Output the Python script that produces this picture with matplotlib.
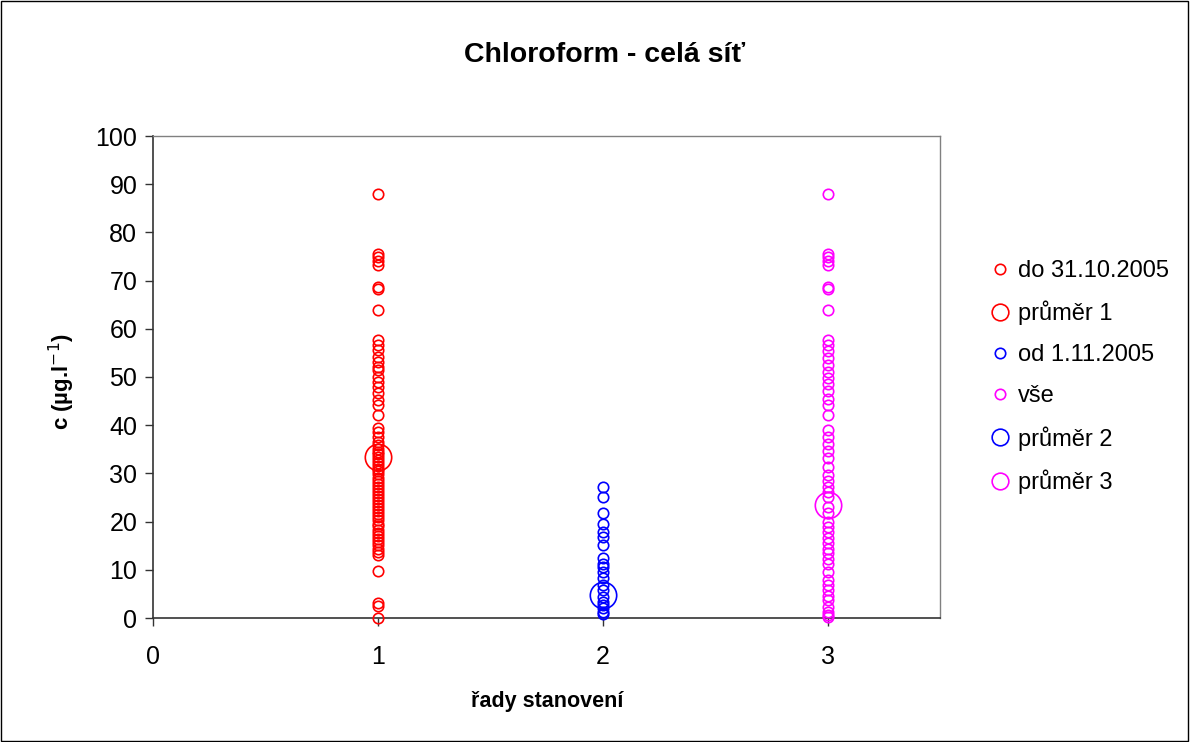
import matplotlib
matplotlib.use("Agg")
import matplotlib.pyplot as plt
from matplotlib.lines import Line2D
from matplotlib.patches import Rectangle

plt.rcParams['font.family'] = ['Liberation Sans', 'DejaVu Sans']

# ---- data ----
title = "Chloroform - celá síť"
xlabel = "řady stanovení"
ylabel = "c (µg.l$^{-1}$)"
labels = ["do 31.10.2005", "průměr 1", "od 1.11.2005", "vše", "průměr 2", "průměr 3"]

series1 = [88.0, 75.6, 74.8, 74.0, 73.2, 68.6, 68.2, 64.0, 57.7, 56.6, 55.6, 54.2, 53.2,
           52.1, 51.5, 50.1, 49.0, 48.0, 46.6, 45.2, 44.2, 42.1, 39.4, 38.5, 37.5, 36.6,
           35.8, 35.1, 34.5, 34.0, 33.4, 32.8, 32.2, 31.6, 31.0, 30.4, 29.8, 29.1, 28.5,
           27.9, 27.2, 26.6, 26.0, 25.3, 24.7, 24.1, 23.5, 22.8, 22.2, 21.5, 20.9, 20.3,
           19.6, 19.0, 18.3, 17.7, 17.0, 16.4, 15.7, 15.1, 14.4, 13.7, 13.0, 9.8, 3.1,
           2.4, 0.1]
series2 = [27.2, 25.2, 21.7, 19.6, 17.9, 16.9, 15.1, 12.4, 11.3, 10.6, 9.6, 8.2, 6.8,
           5.8, 4.4, 3.4, 2.7, 2.0, 1.3, 0.8]
series3 = [88.0, 75.6, 74.8, 74.0, 73.2, 68.6, 68.2, 64.0, 57.7, 56.6, 55.3, 54.0, 52.5,
           51.0, 49.8, 48.5, 47.0, 45.5, 44.2, 42.1, 39.0, 37.6, 36.2, 34.6, 33.1, 31.4,
           29.7, 28.5, 27.2, 26.2, 25.2, 23.1, 21.7, 20.0, 18.8, 17.9, 16.6, 15.5, 14.4,
           13.4, 12.3, 11.3, 9.6, 7.9, 6.8, 5.8, 4.6, 3.7, 2.3, 1.3, 0.6, 0.2]
means = [33.5, 4.8, 23.4]
xpos = [1, 2, 3]
colors = ["#FF0000", "#0000FF", "#FF00FF"]

xticks = [0, 1, 2, 3]
yticks = list(range(0, 101, 10))

# ---- figure ----
fig = plt.figure(figsize=(11.9, 7.42), dpi=100)
fig.patches.append(Rectangle((0.0005, 0.0008), 0.998, 0.998, transform=fig.transFigure,
                             fill=False, edgecolor='black', linewidth=1.0))
ax = fig.add_axes([153/1190, 1-618/742, (940-153)/1190, (618-136)/742])

small = 7.5
big = 19.0
mew = 1.2

ax.plot([xpos[0]]*len(series1), series1, ls='none', marker='o', ms=small, mfc='none',
        mec=colors[0], mew=mew, zorder=3, clip_on=False)
ax.plot([xpos[0]], [means[0]], ls='none', marker='o', ms=big, mfc='none',
        mec=colors[0], mew=mew, zorder=4)
ax.plot([xpos[1]]*len(series2), series2, ls='none', marker='o', ms=small, mfc='none',
        mec=colors[1], mew=mew, zorder=3, clip_on=False)
ax.plot([xpos[2]]*len(series3), series3, ls='none', marker='o', ms=small, mfc='none',
        mec=colors[2], mew=mew, zorder=3, clip_on=False)
ax.plot([xpos[1]], [means[1]], ls='none', marker='o', ms=big, mfc='none',
        mec=colors[1], mew=mew, zorder=4)
ax.plot([xpos[2]], [means[2]], ls='none', marker='o', ms=big, mfc='none',
        mec=colors[2], mew=mew, zorder=4)

axis_col = '#333333'
ax.set_xlim(0, 3.5)
ax.set_ylim(0, 100)
ax.set_xticks(xticks)
ax.set_yticks(yticks)
ax.tick_params(direction='out', length=5.8, width=1, labelsize=18, color=axis_col)
ax.tick_params(axis='y', pad=5.5)
ax.tick_params(axis='x', pad=14)
for s in ['top', 'right']:
    ax.spines[s].set_color('#808080')
    ax.spines[s].set_linewidth(1)
for s in ['left', 'bottom']:
    ax.spines[s].set_color(axis_col)
    ax.spines[s].set_linewidth(1.2)

fig.text(605/1190, 1-55/742, title, ha='center', va='center', fontsize=20.5,
         fontweight='bold')
fig.text(547/1190, 1-702/742, xlabel, ha='center', va='center', fontsize=15.5,
         fontweight='bold')
fig.text(62/1190, 1-382/742, ylabel, ha='center', va='center', fontsize=16,
         fontweight='bold', rotation=90)

handles = [
    Line2D([], [], ls='none', marker='o', ms=7.5, mfc='none', mec=colors[0], mew=mew),
    Line2D([], [], ls='none', marker='o', ms=12, mfc='none', mec=colors[0], mew=mew),
    Line2D([], [], ls='none', marker='o', ms=7.5, mfc='none', mec=colors[1], mew=mew),
    Line2D([], [], ls='none', marker='o', ms=7.5, mfc='none', mec=colors[2], mew=mew),
    Line2D([], [], ls='none', marker='o', ms=12, mfc='none', mec=colors[1], mew=mew),
    Line2D([], [], ls='none', marker='o', ms=12, mfc='none', mec=colors[2], mew=mew),
]
fig.legend(handles, labels, loc='upper left', bbox_to_anchor=(989/1190, 1-260/742),
           frameon=False, fontsize=17, handlelength=0.9, handletextpad=0.31,
           labelspacing=0.8, borderpad=0, borderaxespad=0)

fig.savefig("out.png", dpi=100)
